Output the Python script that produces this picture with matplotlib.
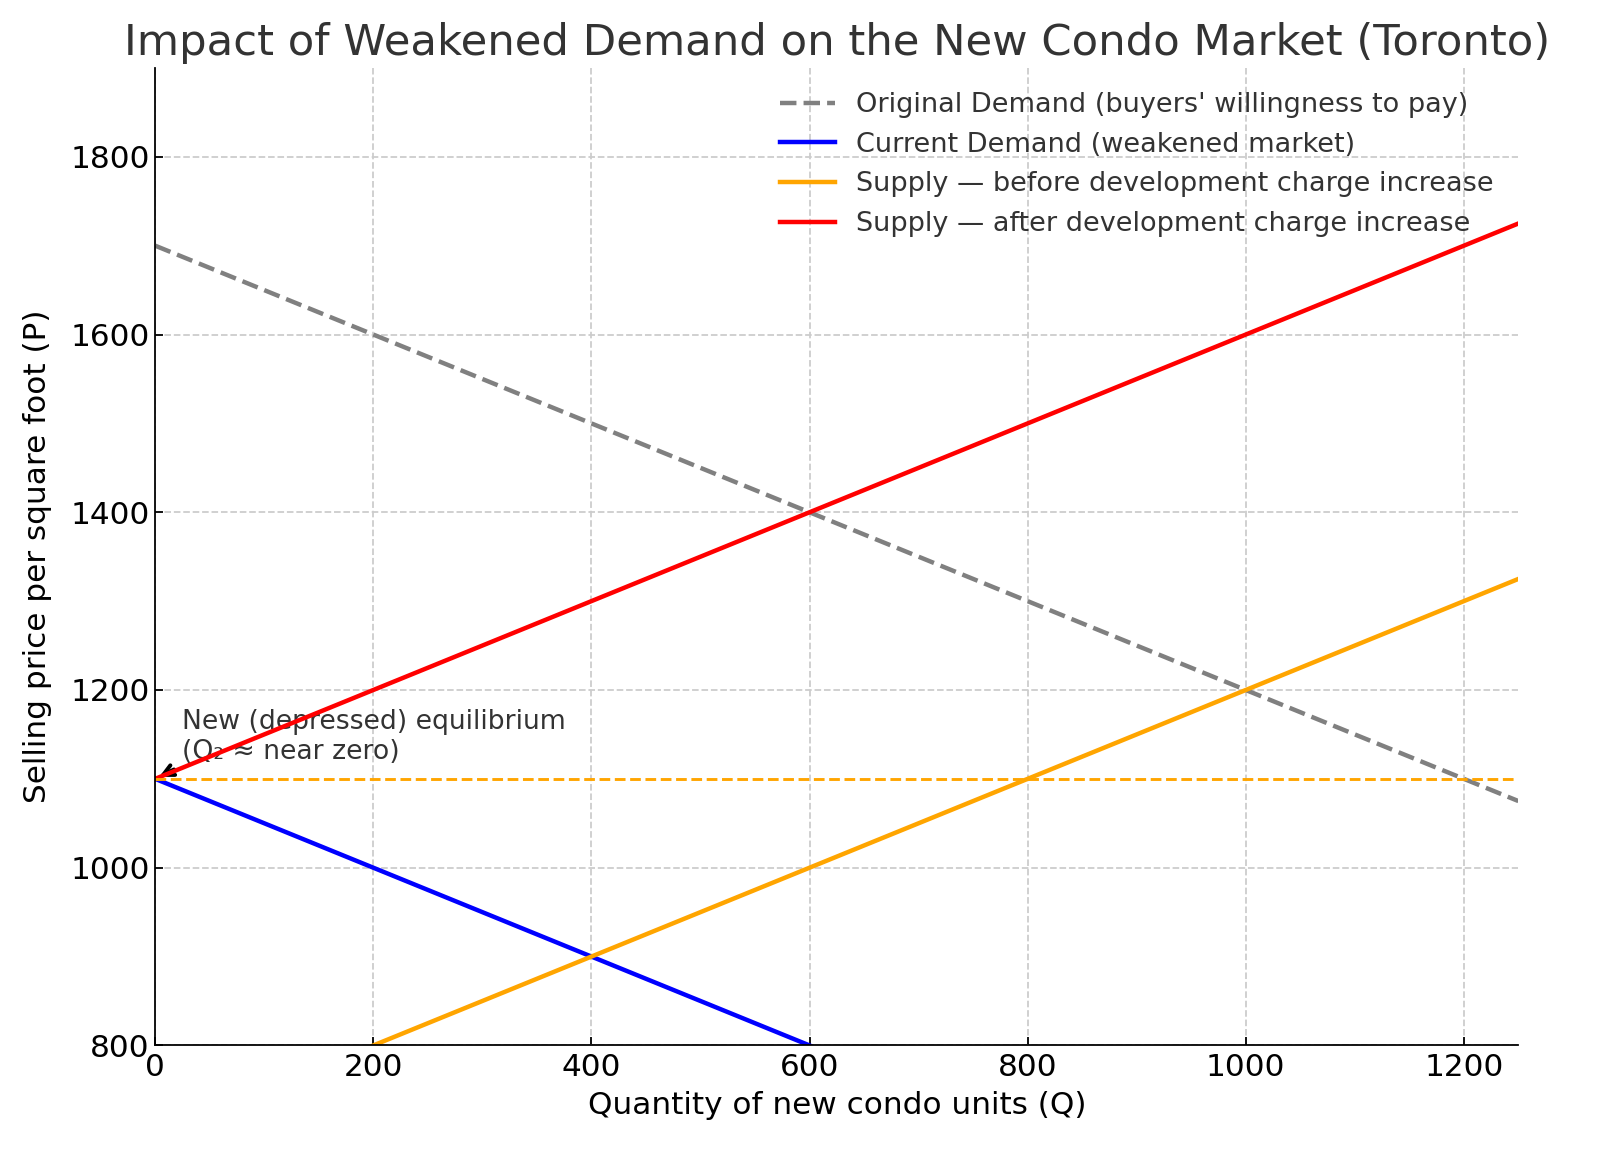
import matplotlib.pyplot as plt

q = [0, 200, 400, 600, 800, 1000, 1200, 1250]
original_demand = [1700, 1600, 1500, 1400, 1300, 1200, 1100, 1075]
current_demand = [1100, 1000, 900, 800, 700, 600, 500, 475]
supply_before = [700, 800, 900, 1000, 1100, 1200, 1300, 1325]
supply_after = [1100, 1200, 1300, 1400, 1500, 1600, 1700, 1725]
eq_price = 1100
eq_qty = 0

fig = plt.figure(figsize=(10, 7.325), dpi=160)
ax = fig.add_axes([0.097, 0.108, 0.852, 0.834])

ax.plot(q, original_demand, '--', color='gray', lw=2, label="Original Demand (buyers' willingness to pay)")
ax.plot(q, current_demand, color='blue', lw=2, label='Current Demand (weakened market)')
ax.plot(q, supply_before, color='orange', lw=2, label='Supply — before development charge increase')
ax.plot(q, supply_after, color='red', lw=2, label='Supply — after development charge increase')
ax.axhline(eq_price, color='orange', ls='--', lw=1.3)

# annotation sits under the lines, like in the original
ax.annotate('New (depressed) equilibrium\n(Q₂ ≈ near zero)', xy=(eq_qty, eq_price), xytext=(25, 1122),
            fontsize=12, color='#333333', zorder=1.5,
            arrowprops=dict(arrowstyle='->', color='black', lw=1.8, relpos=(0, 0)))

ax.set_xlim(0, 1250)
ax.set_ylim(800, 1900)
ax.set_xticks([0, 200, 400, 600, 800, 1000, 1200])
ax.set_yticks([800, 1000, 1200, 1400, 1600, 1800])
ax.tick_params(labelsize=14, direction='in')
ax.tick_params(axis='y', pad=2.5)
ax.spines['top'].set_visible(False)
ax.spines['right'].set_visible(False)
ax.grid(True, ls='--', color='#cccccc', lw=0.8)
ax.set_axisbelow(True)

ax.set_title('Impact of Weakened Demand on the New Condo Market (Toronto)', fontsize=19.5, color='#333333')
ax.set_xlabel('Quantity of new condo units (Q)', fontsize=14)
ax.set_ylabel('Selling price per square foot (P)', fontsize=14, labelpad=8)
leg = ax.legend(loc='upper right', frameon=False, fontsize=12.2)
for t in leg.get_texts():
    t.set_color('#333333')

fig.savefig('out.png', dpi=160)
